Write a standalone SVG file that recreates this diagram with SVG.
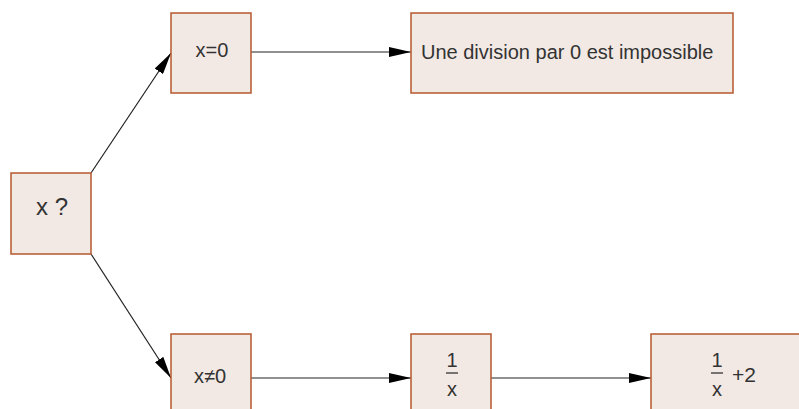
<svg xmlns="http://www.w3.org/2000/svg" width="799" height="409" viewBox="0 0 799 409">
<style>
.box{fill:#f2e8e4;stroke:#b5582d;stroke-width:1.5}
.t{font-family:"Liberation Sans",Arial,sans-serif;fill:#333;text-anchor:middle;font-size:20px}
.c{stroke:#222;stroke-width:1.2;fill:none}
.f{stroke:#333;stroke-width:1.3}
</style>
<defs>
<marker id="ah" markerWidth="22" markerHeight="10" refX="22" refY="5" orient="auto" markerUnits="userSpaceOnUse">
<path d="M0,0 L22,5 L0,10 Z" fill="#000"/>
</marker>
</defs>
<rect width="799" height="409" fill="#fff"/>
<g id="connectors">
<line class="c" x1="91" y1="173" x2="171" y2="53" marker-end="url(#ah)"/>
<line class="c" x1="91" y1="254" x2="171" y2="378" marker-end="url(#ah)"/>
<line class="c" x1="251" y1="52" x2="411" y2="52" marker-end="url(#ah)"/>
<line class="c" x1="251" y1="378" x2="411" y2="378" marker-end="url(#ah)"/>
<line class="c" x1="491" y1="378" x2="651" y2="378" marker-end="url(#ah)"/>
</g>
<g id="n_x">
<rect class="box" x="11" y="173" width="80" height="81"/>
<text class="t" x="52" y="215" style="font-size:24px">x ?</text>
</g>
<g id="n_x0">
<rect class="box" x="171" y="13" width="80" height="80"/>
<text class="t" x="212" y="57">x=0</text>
</g>
<g id="n_div">
<rect class="box" x="411" y="13" width="322" height="80"/>
<text class="t" x="421" y="59" style="text-anchor:start">Une division par 0 est impossible</text>
</g>
<g id="n_xne0">
<rect class="box" x="171" y="334" width="80" height="80"/>
<text class="t" x="210" y="383">x≠0</text>
</g>
<g id="n_inv">
<rect class="box" x="411" y="334" width="80" height="80"/>
<text class="t" x="452" y="367">1</text>
<line class="f" x1="446" y1="373" x2="458" y2="373"/>
<text class="t" x="452" y="396">x</text>
</g>
<g id="n_inv2">
<rect class="box" x="651" y="334" width="160" height="80"/>
<text class="t" x="717" y="367">1</text>
<line class="f" x1="711" y1="373" x2="723" y2="373"/>
<text class="t" x="717" y="396">x</text>
<text class="t" x="744" y="382" style="font-size:21px">+2</text>
</g>
</svg>
